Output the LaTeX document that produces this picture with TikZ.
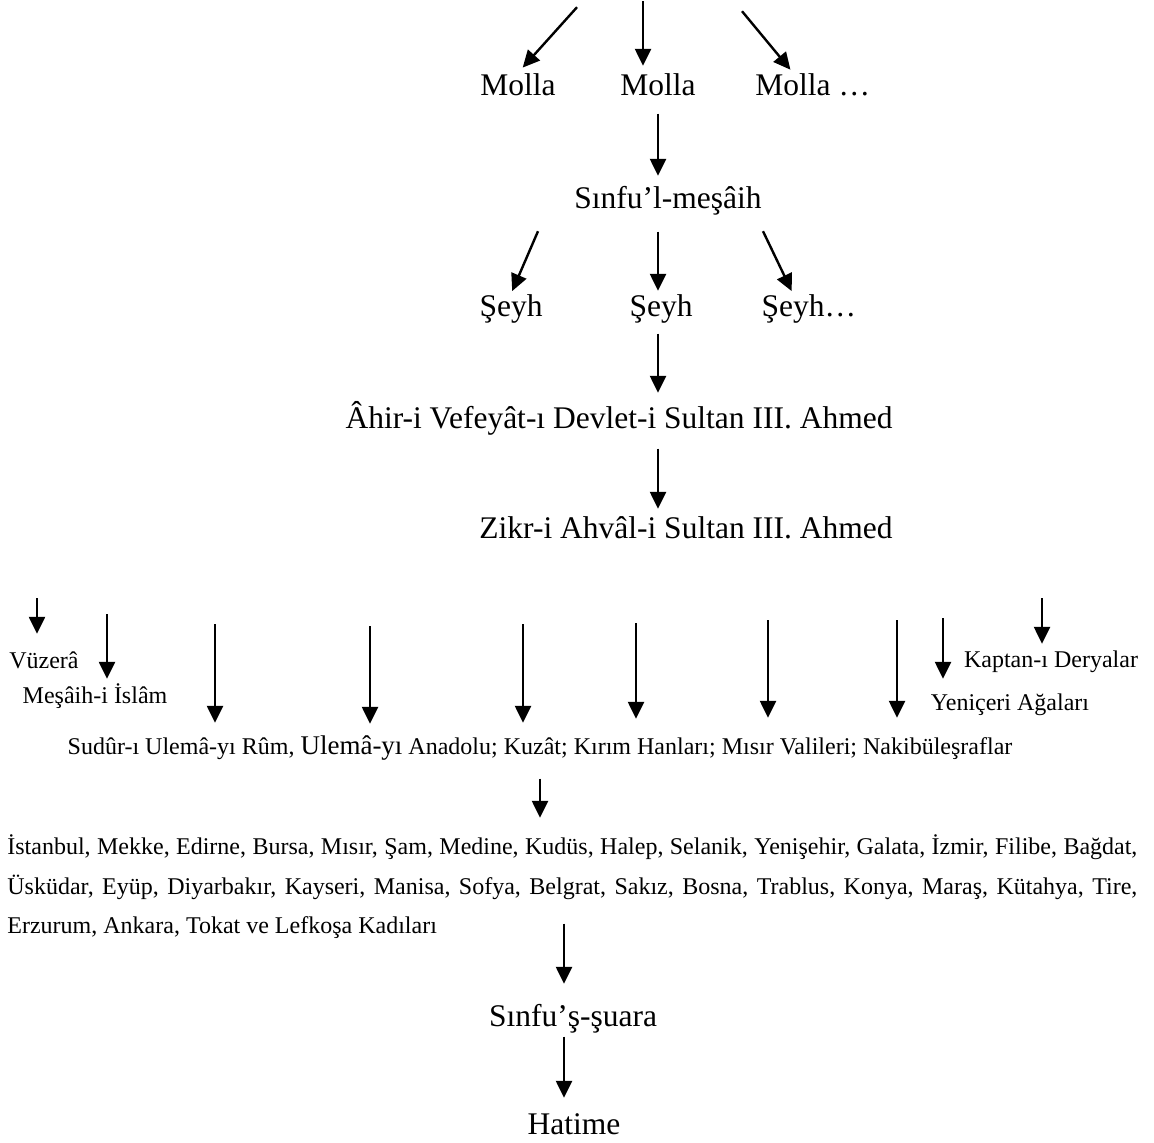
\documentclass[tikz,border=0pt]{standalone}
\usepackage{fontspec}
\setmainfont{Liberation Serif}
\usetikzlibrary{arrows.meta}
\begin{document}
\begin{tikzpicture}[x=0.5pt,y=-0.5pt,
  big/.style={inner sep=0pt, text height=11pt, text depth=3pt, anchor=base,
    font=\fontsize{15.75}{18}\selectfont},
  small/.style={inner sep=0pt, text height=8.5pt, text depth=2.5pt, anchor=base,
    font=\fontsize{12}{14}\selectfont},
  arr/.style={line width=1.2pt, -{Triangle[width=8pt,length=8.5pt]}},
]
\fill[white] (0,0) rectangle (1154,1141);

% vertical guide lines for the straight arrows
\coordinate (spine) at (658,0);
\coordinate (spine2) at (564,0);

% --- Molla tier ---
\node[big] (molla1) at (518,94) {Molla};
\node[big] (molla2) at (658,94) {Molla};
\node[big] (molla3) at (793,94) {Molla\rlap{~…}};
\coordinate (t1) at (577,6);
\coordinate (t2) at (643,0);
\coordinate (t3) at (742,10);
\draw[arr, shorten >=3.5pt] (t1) -- (molla1.north);
\draw[arr, shorten >=3.5pt] (t2) -- (t2 |- molla2.north);
\draw[arr, shorten >=2pt] (t3) -- (molla3.north);

% --- Sınfu'l-meşâih and Şeyh tier ---
\node[big] (sinfu) at (668,207) {Sınfu’l-meşâih};
\draw[arr, shorten <=6pt, shorten >=5pt] (spine |- molla2.south) -- (spine |- sinfu.north);

\node[big] (seyh1) at (511,315) {Şeyh};
\node[big] (seyh2) at (661,315) {Şeyh};
\node[big] (seyh3) at (793,315) {Şeyh\rlap{…}};
\coordinate (s1) at (538,230);
\coordinate (s3) at (763,230);
\draw[arr, shorten >=1.5pt] (s1) -- (seyh1.north);
\draw[arr, shorten <=8.5pt, shorten >=1.5pt] (spine |- sinfu.south) -- (spine |- seyh2.north);
\draw[arr, shorten >=1.5pt] (s3) -- (seyh3.north);

% --- Sultan III. Ahmed ---
\node[big] (ahir) at (619,427) {Âhir-i Vefeyât-ı Devlet-i Sultan III. Ahmed};
\draw[arr, shorten <=5.5pt, shorten >=6.5pt] (spine |- seyh2.south) -- (spine |- ahir.north);
\node[big] (zikr) at (686,537) {Zikr-i Ahvâl-i Sultan III. Ahmed};
\draw[arr, shorten <=7pt, shorten >=3.5pt] (spine |- ahir.south) -- (spine |- zikr.north);

% --- office holders ---
\node[small] (vuzera) at (44,667) {Vüzerâ};
\node[small] (mesaih) at (95,702) {Meşâih-i İslâm};
\node[small] (kaptan) at (1051,666) {Kaptan-ı Deryalar};
\node[small] (yeniceri) at (1010,709) {Yeniçeri Ağaları};
\node[small] (sudur) at (540,753) {Sudûr-ı Ulemâ-yı Rûm, {\fontsize{13.5}{14}\selectfont Ulemâ-yı} Anadolu; Kuzât; Kırım Hanları; Mısır Valileri; Nakibüleşraflar};

\coordinate (a1) at (37,597);
\coordinate (a2) at (107,613);
\coordinate (a3) at (215,623);
\coordinate (a4) at (370,625);
\coordinate (a5) at (523,623);
\coordinate (a6) at (636,622);
\coordinate (a7) at (768,619);
\coordinate (a8) at (897,619);
\coordinate (a9) at (943,617);
\coordinate (a10) at (1042,597);
\draw[arr, shorten >=8.5pt] (a1) -- (a1 |- vuzera.north);
\draw[arr, shorten >=3.5pt] (a2) -- (a2 |- mesaih.north);
\draw[arr, shorten >=7pt] (a3) -- (a3 |- sudur.north);
\draw[arr, shorten >=6.5pt] (a4) -- (a4 |- sudur.north);
\draw[arr, shorten >=7pt] (a5) -- (a5 |- sudur.north);
\draw[arr, shorten >=9pt] (a6) -- (a6 |- sudur.north);
\draw[arr, shorten >=9.5pt] (a7) -- (a7 |- sudur.north);
\draw[arr, shorten >=9.5pt] (a8) -- (a8 |- sudur.north);
\draw[arr, shorten >=7pt] (a9) -- (a9 |- yeniceri.north);
\draw[arr, shorten >=3pt] (a10) -- (a10 |- kaptan.north);

% --- kadis ---
\node[small, anchor=base west] (line1) at (7,853) {\makebox[565pt][s]{İstanbul, Mekke, Edirne, Bursa, Mısır, Şam, Medine, Kudüs, Halep, Selanik, Yenişehir, Galata, İzmir, Filibe, Bağdat,}};
\node[small, anchor=base west] (line2) at (7,893) {\makebox[565pt][s]{Üsküdar, Eyüp, Diyarbakır, Kayseri, Manisa, Sofya, Belgrat, Sakız, Bosna, Trablus, Konya, Maraş, Kütahya, Tire,}};
\node[small, anchor=base west] (line3) at (7,932) {Erzurum, Ankara, Tokat ve Lefkoşa Kadıları};
\draw[arr, shorten <=9.5pt, shorten >=9.5pt] (sudur.south) -- (sudur.south |- line1.north);

% --- poets and epilogue ---
\node[big] (suara) at (573,1025) {Sınfu’ş-şuara};
\draw[arr, shorten <=12pt, shorten >=10pt] (spine2 |- line2.south) -- (spine2 |- suara.north);
\node[big] (hatime) at (574,1133) {Hatime};
\draw[arr, shorten <=2pt, shorten >=7pt] (spine2 |- suara.south) -- (spine2 |- hatime.north);
\end{tikzpicture}
\end{document}
